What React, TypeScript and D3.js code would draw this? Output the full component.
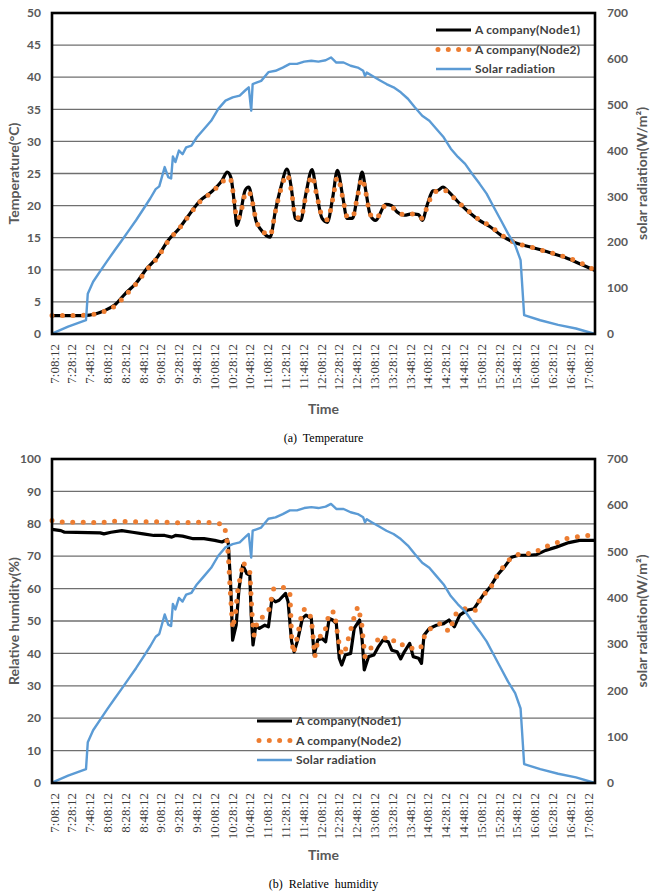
import React from "react";
import * as d3 from "d3";

// ---------- data ----------
const timeLabels = [
  "7:08:12", "7:28:12", "7:48:12", "8:08:12", "8:28:12", "8:48:12", "9:08:12", "9:28:12",
  "9:48:12", "10:08:12", "10:28:12", "10:48:12", "11:08:12", "11:28:12", "11:48:12",
  "12:08:12", "12:28:12", "12:48:12", "13:08:12", "13:28:12", "13:48:12", "14:08:12",
  "14:28:12", "14:48:12", "15:08:12", "15:28:12", "15:48:12", "16:08:12", "16:28:12",
  "16:48:12", "17:08:12",
];
const tickStepMin = 20; // minutes between labels
const timeSpanMin = 610; // minutes from 7:08:12 to end of record

// solar radiation (W/m2), minutes after 7:08:12
const solarMin = [0, 18.1, 38.2, 40.2, 46.2, 54.2, 62.3, 70.3, 78.4, 86.4,
  94.4, 102.5, 110.5, 116.5, 120.5, 126.6, 130.6, 133.8, 135.8, 138.6,
  142.6, 146.7, 150.7, 156.7, 162.7, 170.8, 178.8, 186.8, 194.9, 202.9,
  210.9, 217, 221, 223.8, 225.4, 235, 243.1, 251.1, 259.2, 267.2,
  275.2, 283.3, 291.3, 299.3, 307.4, 313.4, 319.4, 327.5, 335.5, 343.5,
  349.6, 351.6, 353.6, 359.6, 367.6, 375.7, 383.7, 391.8, 399.8, 407.8,
  415.9, 423.9, 431.9, 440, 448, 456, 464.1, 472.1, 480.2, 488.2,
  496.2, 504.3, 512.3, 520.3, 526.4, 530.4, 548.5, 568.6, 588.6, 610];
const solarVal = [1, 16, 30, 88, 114, 137, 160, 182, 204, 226,
  248, 272, 296, 316, 322, 364, 342, 339, 387, 375,
  400, 392, 407, 411, 429, 447, 465, 491, 509, 516,
  520, 531, 538, 487, 545, 552, 571, 574, 581, 589,
  589, 594, 596, 594, 597, 603, 592, 592, 585, 581,
  574, 563, 570, 563, 554, 545, 538, 527, 513, 494,
  476, 465, 447, 429, 404, 386, 371, 349, 328, 306,
  277, 248, 219, 194, 161, 41, 30, 20, 12, 0];

// temperature (°C)
const tempMin = [0, 26.1, 42.2, 58.3, 70.3, 82.4, 94.4, 106.5, 118.5, 130.6,
  142.6, 154.7, 166.7, 178.8, 190.9, 196.9, 200.9, 204.9, 207.7, 210.9,
  217, 221, 225, 229, 235, 245.1, 251.1, 257.2, 264, 269.2,
  273.2, 279.3, 285.3, 292.1, 297.3, 303.4, 309.4, 315.4, 320.6, 326.7,
  331.5, 337.5, 343.5, 348.4, 352.4, 357.6, 363.6, 374.9, 381.7, 387.7,
  395.8, 403.8, 411.8, 415.9, 421.9, 427.9, 433.9, 439.2, 446, 456,
  468.1, 480.2, 492.2, 504.3, 520.3, 536.4, 556.5, 576.6, 596.7, 610];
const tempNode1 = [2.85, 2.85, 2.95, 3.6, 4.5, 6.3, 7.9, 10.2, 12.0, 14.6,
  16.4, 18.7, 20.8, 22.1, 23.9, 25.2, 24.4, 20.3, 16.9, 18.2,
  22.4, 22.9, 20.8, 17.7, 16.2, 15.1, 19.3, 22.9, 25.7, 22.4,
  18.0, 17.7, 21.9, 25.6, 21.9, 18.0, 17.4, 21.3, 25.5, 21.3,
  18.0, 18.0, 21.9, 25.2, 22.4, 18.5, 17.7, 20.2, 20.0, 19.0,
  18.5, 18.7, 18.6, 17.7, 20.3, 22.3, 22.4, 22.9, 22.1, 20.6,
  19.0, 17.7, 16.7, 15.4, 14.2, 13.6, 12.8, 11.9, 10.7, 9.9];
const tempNode2 = [2.9, 2.9, 3.0, 3.5, 4.3, 6.0, 7.8, 10.0, 11.9, 14.5,
  16.4, 18.6, 20.7, 22.0, 23.6, 24.4, 24.0, 20.5, 17.9, 18.3,
  21.8, 22.2, 20.6, 17.9, 16.3, 15.4, 19.2, 22.6, 24.8, 22.1,
  18.4, 18.0, 21.6, 24.6, 21.7, 18.4, 17.8, 21.0, 24.4, 21.2,
  18.3, 18.2, 21.6, 24.2, 22.1, 18.6, 18.0, 20.0, 19.8, 19.0,
  18.6, 18.7, 18.5, 18.0, 20.0, 21.9, 22.3, 22.5, 21.9, 20.6,
  19.1, 17.8, 16.8, 15.5, 14.2, 13.6, 12.8, 12.0, 10.9, 9.9];

// relative humidity (%)
const rh1Min = [0, 10, 14.1, 54.2, 58.3, 66.3, 78.4, 90.4, 102.5, 114.5,
  126.6, 134.6, 138.6, 146.7, 158.7, 170.8, 182.8, 190.9, 196.9, 198.1,
  200.9, 202.9, 206.9, 210.1, 214.2, 219, 222.2, 223.8, 225.8, 229,
  233, 239.1, 243.1, 247.1, 251.1, 255.1, 262.4, 265.2, 269.2, 272,
  276, 281.3, 285.3, 291.3, 294.5, 298.5, 303.4, 307.4, 311.4, 315.4,
  319.4, 322.7, 325.5, 329.5, 335.5, 339.5, 345.5, 348.4, 350.8, 355.6,
  361.6, 366.8, 371.7, 377.7, 381.7, 387.7, 391.8, 395.8, 401.8, 405.8,
  411.8, 415.1, 417.9, 423.9, 431.9, 440, 446, 452, 458.1, 466.1,
  474.1, 484.2, 492.2, 500.2, 508.3, 516.3, 524.3, 536.4, 544.4, 554.5,
  566.5, 580.6, 592.7, 610];
const rhNode1 = [78.3, 77.9, 77.4, 77.2, 76.9, 77.4, 77.9, 77.4, 76.9, 76.4,
  76.4, 75.9, 76.4, 76.2, 75.4, 75.4, 74.9, 74.4, 75.2, 73.8,
  60, 44.1, 48.7, 60, 67.2, 64.6, 64.1, 51.8, 42.6, 48.7,
  47.7, 48.7, 48.2, 56.9, 55.9, 56.4, 58.5, 55.9, 43.6, 40.5,
  44.1, 50.8, 51.8, 50.8, 39.5, 44.1, 44.6, 43.6, 50.8, 50.3,
  49.2, 38.5, 36.4, 39.5, 40, 47.7, 50.3, 44.1, 34.9, 39,
  39.5, 42.1, 44.1, 43.6, 41, 40.5, 38.3, 40.5, 43.1, 39,
  38.5, 36.9, 45.6, 47.7, 48.7, 49.2, 50.3, 48.2, 51.8, 53.3,
  53.8, 57.9, 60.5, 64.1, 66.7, 69.7, 70.3, 70.3, 70.5, 71.8,
  72.8, 74.2, 74.9, 74.9];
const rh2Min = [0, 2, 14.1, 41, 54.2, 68.3, 93.6, 119.7, 144.6, 168,
  180.8, 192.9, 195.7, 198.1, 200.1, 202.9, 206.1, 208.9, 215, 219,
  222.2, 225, 227, 231, 237.1, 243.1, 249.1, 259.2, 267.2, 269.2,
  271.2, 275.2, 281.3, 285.3, 291.3, 295.3, 299.3, 305.4, 309.4, 311.4,
  317.4, 321.4, 325.5, 329.5, 335.5, 339.5, 343.5, 347.6, 349.6, 351.6,
  355.6, 361.6, 371.7, 377.7, 387.7, 395.8, 405.8, 413.9, 417.9, 421.9,
  427.9, 436, 446, 454, 464.1, 476.1, 482.2, 490.2, 500.2, 508.3,
  516.3, 526.4, 540.4, 552.5, 564.5, 576.6, 588.6, 600.7, 610];
const rhNode2 = [81, 80.7, 80.5, 80.5, 80.3, 80.8, 80.6, 80.6, 80.3, 80.5,
  80.4, 79.8, 76.9, 70.3, 60, 47.7, 52.3, 60, 68.2, 65.6,
  65, 50.8, 45.6, 50.3, 51.3, 52.8, 60, 60.5, 59, 45,
  40, 44.6, 53.3, 53.8, 51, 39, 45.1, 45.6, 50, 52.8,
  52.8, 44.6, 39.5, 41, 47.2, 51.3, 54.4, 50, 44.1, 39,
  40.5, 43.1, 45.6, 43.6, 44.1, 42.1, 41.5, 41.5, 45, 47.2,
  48, 49.2, 46.7, 52.3, 53.8, 53.3, 58, 59, 64.1, 67.2,
  69.7, 70.8, 70.8, 72.8, 73.8, 75.4, 75.9, 76.4, 76.5];

const legendLabels = ["A company(Node1)", "A company(Node2)", "Solar radiation"];

// ---------- styling ----------
const SANS = "Lato, 'Open Sans', sans-serif";
const SERIF = "'Liberation Serif', 'DejaVu Serif', serif";
const C_NODE1 = "#000000";
const C_NODE2 = "#ED7D31";
const C_SOLAR = "#5B9BD5";
const C_AXIS_TEXT = "#595959";
const L = 52;
const R = 595;

type P = [number, number];
const zipPts = (a: number[], b: number[]): P[] => a.map((m, i) => [m, b[i]] as P);

interface PanelProps {
  top: number;
  bottom: number;
  yMax: number;
  leftTitle: string;
  caption: string;
  captionY: number;
  timeY: number;
  legendX: number;
  legendY: number;
  node1: P[];
  node2: P[];
  smooth: boolean;
}

function Panel(props: PanelProps) {
  const { top, bottom, yMax, leftTitle, caption, captionY, timeY, legendX, legendY, node1, node2, smooth } = props;
  const x = d3.scaleLinear().domain([0, timeSpanMin]).range([L, R]);
  const y = d3.scaleLinear().domain([0, yMax]).range([bottom, top]);
  const y2 = d3.scaleLinear().domain([0, 700]).range([bottom, top]);
  const yTicks = y.ticks(10);
  const y2Ticks = d3.range(0, 701, 100);
  const curve = smooth ? d3.curveMonotoneX : d3.curveLinear;
  const lineMain = d3.line<P>().x((d) => x(d[0])).y((d) => y(d[1])).curve(curve);
  const lineSolar = d3.line<P>().x((d) => x(d[0])).y((d) => y2(d[1]));
  const solar = zipPts(solarMin, solarVal);
  const midY = (top + bottom) / 2;
  const midX = (L + R) / 2;

  return (
    <g>
      {yTicks.map((t) => (
        <line key={"g" + t} x1={L} x2={R} y1={y(t)} y2={y(t)} stroke="#6f6f6f" strokeWidth={1.3} />
      ))}
      <path d={lineMain(node1) || ""} fill="none" stroke={C_NODE1} strokeWidth={3.2} strokeLinejoin="round" />
      <path d={lineMain(node2) || ""} fill="none" stroke={C_NODE2} strokeWidth={5}
        strokeDasharray="0 10.5" strokeLinecap="round" />
      <path d={lineSolar(solar) || ""} fill="none" stroke={C_SOLAR} strokeWidth={2.4} strokeLinejoin="round" />
      <rect x={L} y={top} width={R - L} height={bottom - top} fill="none" stroke="#000" strokeWidth={2.6} />
      {yTicks.map((t) => (
        <text key={"l" + t} x={41} y={y(t)} dy="0.35em" textAnchor="end" fontFamily={SANS}
          fontWeight={700} fontSize={12} fill={C_AXIS_TEXT}>{t}</text>
      ))}
      {y2Ticks.map((t) => (
        <text key={"r" + t} x={607} y={y2(t)} dy="0.35em" textAnchor="start" fontFamily={SANS}
          fontWeight={700} fontSize={12} fill={C_AXIS_TEXT}>{t}</text>
      ))}
      {timeLabels.map((lab, i) => (
        <text key={"x" + i} transform={`translate(${x(i * tickStepMin) + 2},${bottom + 10}) rotate(-90)`}
          dy="0.35em" textAnchor="end" fontFamily={SERIF} fontSize={13} fill="#3a3a3a">{lab}</text>
      ))}
      <text transform={`translate(14,${midY}) rotate(-90)`} dy="0.35em" textAnchor="middle" fontFamily={SANS}
        fontWeight={700} fontSize={14} fill={C_AXIS_TEXT}>{leftTitle}</text>
      <text transform={`translate(642,${midY}) rotate(-90)`} dy="0.35em" textAnchor="middle" fontFamily={SANS}
        fontWeight={700} fontSize={14} fill={C_AXIS_TEXT}>solar radiation(W/m²)</text>
      <text x={midX} y={timeY} dy="0.35em" textAnchor="middle" fontFamily={SANS} fontWeight={700}
        fontSize={14} fill={C_AXIS_TEXT}>Time</text>
      {legendLabels.map((lab, i) => {
        const ly = legendY + i * 19.5;
        return (
          <g key={"lg" + i}>
            {i === 0 && <line x1={legendX} x2={legendX + 35} y1={ly} y2={ly} stroke={C_NODE1} strokeWidth={3.2} />}
            {i === 1 && <line x1={legendX + 2} x2={legendX + 35} y1={ly} y2={ly} stroke={C_NODE2} strokeWidth={5}
              strokeDasharray="0 10.3" strokeLinecap="round" />}
            {i === 2 && <line x1={legendX} x2={legendX + 35} y1={ly} y2={ly} stroke={C_SOLAR} strokeWidth={2.4} />}
            <text x={legendX + 39} y={ly} dy="0.35em" fontFamily={SANS} fontWeight={700} fontSize={12}
              fill="#404040" letterSpacing={0.2}>{lab}</text>
          </g>
        );
      })}
      <text x={midX} y={captionY} dy="0.35em" textAnchor="middle" fontFamily={SERIF} fontSize={12}
        fill="#000" style={{ whiteSpace: "pre" }}>{caption}</text>
    </g>
  );
}

export default function App() {
  return (
    <svg width={653} height={892} style={{ position: "absolute", left: 0, top: 0, background: "#fff" }}>
      <rect width={653} height={892} fill="#fff" />
      <Panel top={13} bottom={334} yMax={50} leftTitle="Temperature(°C)" caption="(a)  Temperature"
        captionY={438} timeY={409} legendX={436} legendY={30}
        node1={zipPts(tempMin, tempNode1)} node2={zipPts(tempMin, tempNode2)} smooth={true} />
      <Panel top={459} bottom={783} yMax={100} leftTitle="Relative humidity(%)" caption="(b)  Relative  humidity"
        captionY={884} timeY={855} legendX={257} legendY={721}
        node1={zipPts(rh1Min, rhNode1)} node2={zipPts(rh2Min, rhNode2)} smooth={false} />
    </svg>
  );
}
